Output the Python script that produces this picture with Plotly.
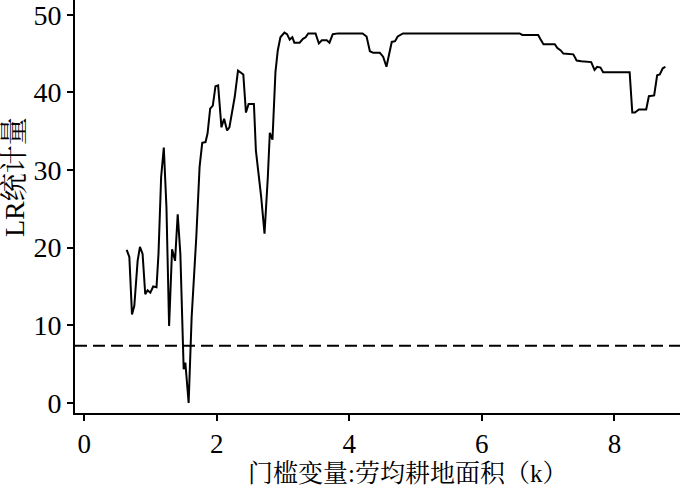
import plotly.graph_objects as go

# threshold variable values (k) and LR statistic
k_values = [0.64, 0.68, 0.72, 0.755, 0.805, 0.84, 0.88, 0.92, 0.956, 0.997, 1.04, 1.09, 1.12,
            1.16, 1.20, 1.24, 1.28, 1.325, 1.37, 1.41, 1.45, 1.50, 1.525, 1.575, 1.62, 1.69,
            1.74, 1.78, 1.83, 1.86, 1.90, 1.94, 1.98, 2.02, 2.07, 2.11, 2.155, 2.19, 2.27,
            2.32, 2.37, 2.40, 2.44, 2.48, 2.56, 2.59, 2.67, 2.72, 2.77, 2.80, 2.84, 2.885,
            2.92, 2.96, 3.02, 3.06, 3.10, 3.14, 3.17, 3.25, 3.30, 3.34, 3.38, 3.49, 3.54,
            3.585, 3.66, 3.70, 3.75, 3.83, 4.20, 4.26, 4.31, 4.36, 4.46, 4.51, 4.56, 4.61,
            4.64, 4.69, 4.73, 4.81, 6.57, 6.61, 6.85, 6.88, 6.93, 7.10, 7.14, 7.19, 7.23,
            7.38, 7.43, 7.50, 7.65, 7.70, 7.74, 7.79, 7.83, 8.23, 8.27, 8.31, 8.37, 8.48,
            8.52, 8.60, 8.645, 8.685, 8.73, 8.77]
lr_values = [19.7, 18.8, 11.4, 12.5, 18.3, 20.1, 19.2, 14.0, 14.5, 14.2, 15.0, 14.9, 19.2,
             29.1, 32.9, 25.2, 9.9, 19.8, 18.3, 24.3, 19.2, 4.35, 5.2, 0.0, 11.0, 21.3,
             30.4, 33.5, 33.6, 34.7, 37.9, 38.3, 40.8, 40.9, 35.5, 36.6, 35.1, 35.5, 39.4,
             42.8, 42.5, 42.3, 37.4, 38.5, 38.5, 32.5, 26.5, 21.8, 29.1, 34.8, 33.9, 42.6,
             45.4, 47.1, 47.7, 47.5, 46.8, 47.1, 46.4, 46.4, 46.9, 47.1, 47.6, 47.6, 46.3,
             46.7, 46.7, 46.4, 47.5, 47.6, 47.6, 47.2, 45.3, 45.1, 45.1, 44.6, 43.3, 45.4,
             46.5, 46.6, 47.2, 47.6, 47.6, 47.4, 47.4, 46.9, 46.2, 46.2, 45.7, 45.4, 45.0,
             44.9, 44.1, 44.0, 43.9, 42.9, 43.3, 43.2, 42.6, 42.6, 37.4, 37.4, 37.8, 37.8,
             39.5, 39.6, 42.2, 42.3, 43.1, 43.3]
critical_value = 7.35

x_ticks = [0, 2, 4, 6, 8]
y_ticks = [0, 10, 20, 30, 40, 50]
x_title = "门槛变量:劳均耕地面积（k）"
y_title = "LR统计量"

font_family = "Liberation Serif, Times New Roman, Noto Serif CJK SC, Noto Sans CJK SC, serif"

fig = go.Figure()
fig.add_trace(go.Scatter(x=k_values, y=lr_values, mode="lines",
                         line=dict(color="black", width=2), showlegend=False))
fig.add_shape(type="line", xref="paper", x0=0, x1=1, yref="y",
              y0=critical_value, y1=critical_value,
              line=dict(color="black", width=2, dash="12px,6px"))

# axis titles as annotations so they sit where the reference has them
fig.add_annotation(text=x_title, xref="paper", yref="paper", x=0.55, y=-0.1456,
                   xanchor="center", yanchor="middle", showarrow=False,
                   font=dict(size=25))
fig.add_annotation(text=y_title, xref="paper", yref="paper", x=-0.10, y=0.57,
                   xanchor="center", yanchor="middle", showarrow=False, textangle=-90,
                   font=dict(size=28))

fig.update_layout(
    width=700, height=489,
    margin=dict(l=75, r=20, t=0, b=76),
    plot_bgcolor="white", paper_bgcolor="white",
    font=dict(family=font_family, size=28, color="black"),
)
fig.update_xaxes(range=[-0.14, 8.99], tickvals=x_ticks, showgrid=False, zeroline=False,
                 showline=True, linecolor="black", linewidth=2, automargin=False,
                 ticks="outside", ticklen=6, tickwidth=2, tickcolor="black",
                 tickfont=dict(size=27), ticklabeloverflow="allow")
fig.update_yaxes(range=[-1.3, 51.9], tickvals=y_ticks, showgrid=False, zeroline=False,
                 showline=True, linecolor="black", linewidth=2, automargin=False,
                 ticks="outside", ticklen=6, tickwidth=2, tickcolor="black",
                 tickfont=dict(size=28), ticklabeloverflow="allow")

fig.write_html("out.html", config={"displayModeBar": False},
               post_script="document.body.style.margin='0px';")
